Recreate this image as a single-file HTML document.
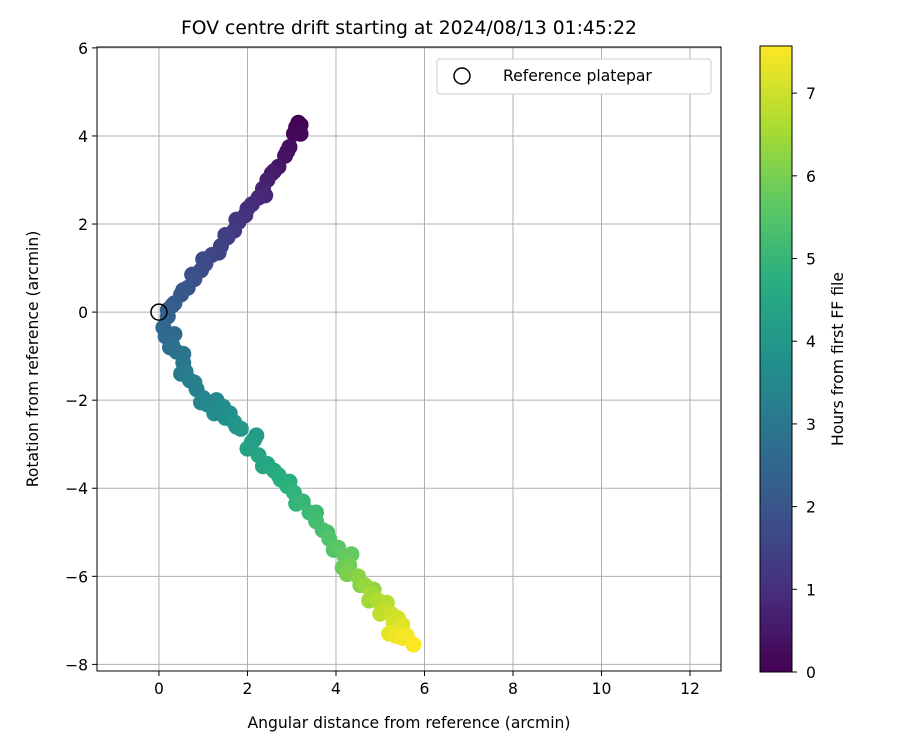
<!DOCTYPE html>
<html><head><meta charset="utf-8"><style>
body{margin:0;background:#fff;}
svg text{font-family:"DejaVu Sans","Liberation Sans",sans-serif;fill:#000;}
</style></head><body>
<svg id="chart" width="900" height="750" xmlns="http://www.w3.org/2000/svg">
<defs><linearGradient id="vir" x1="0" y1="1" x2="0" y2="0">
<stop offset="0" stop-color="#440154"/><stop offset="0.125" stop-color="#472d7b"/><stop offset="0.25" stop-color="#3b528b"/><stop offset="0.375" stop-color="#2c728e"/><stop offset="0.5" stop-color="#21918c"/><stop offset="0.625" stop-color="#28ae80"/><stop offset="0.75" stop-color="#5ec962"/><stop offset="0.875" stop-color="#addc30"/><stop offset="1" stop-color="#fde725"/></linearGradient>
<clipPath id="clip"><rect x="97" y="47" width="624" height="624"/></clipPath></defs>
<text x="409" y="34" font-size="18.75" text-anchor="middle">FOV centre drift starting at 2024/08/13 01:45:22</text>
<g id="grid"></g>
<g id="pts" clip-path="url(#clip)"></g>
<circle id="refpt" r="8" fill="none" stroke="#000" stroke-width="1.5"/>
<rect x="97" y="47" width="624" height="624" fill="none" stroke="#000" stroke-width="1"/>
<g id="ticks"></g>
<text x="409" y="728" font-size="15.6" text-anchor="middle">Angular distance from reference (arcmin)</text>
<text transform="translate(38,359) rotate(-90)" font-size="15.6" text-anchor="middle">Rotation from reference (arcmin)</text>
<g>
<rect x="437" y="59" width="274" height="35" rx="3" fill="#fff" stroke="#ccc"/>
<circle cx="462" cy="76" r="8" fill="none" stroke="#000" stroke-width="1.5"/>
<text x="503" y="81" font-size="15.6">Reference platepar</text></g>
<rect x="760" y="46" width="32" height="626" fill="url(#vir)" stroke="#000" stroke-width="1"/>
<g id="cticks"></g>
<text transform="translate(843,359) rotate(-90)" font-size="15.6" text-anchor="middle">Hours from first FF file</text>
</svg>
<script>
const xs=[3.15,3.1,3.05,3.2,2.95,2.85,2.7,2.55,2.45,2.35,2.25,2.1,1.95,1.8,1.7,1.55,1.4,1.2,1.05,0.95,0.8,0.65,0.5,0.35,0.2,
0.2,0.1,0.15,0.3,0.4,0.55,0.6,0.7,0.85,1.0,1.1,1.25,1.45,1.5,1.7,1.85,2.2,2.1,2.0,2.25,2.45,2.6,2.75,2.9,3.05,3.25,3.4,3.55,3.7,3.85,4.05,4.2,4.3,4.25,4.5,4.65,4.8,4.95,5.1,5.25,5.3,5.45,5.35,5.6,5.75,
3.2,2.9,2.6,2.4,2.0,1.75,1.5,1.35,1.0,0.75,0.55,0.3,
0.35,0.25,0.55,0.5,0.8,0.95,1.3,1.6,1.75,2.15,2.35,2.7,2.95,3.1,3.55,3.8,3.95,4.35,4.15,4.55,4.85,4.75,5.15,5.0,5.4,5.5,5.2,5.5];
const ys=[4.3,4.2,4.05,4.05,3.75,3.55,3.3,3.15,3.0,2.8,2.6,2.45,2.2,2.05,1.85,1.7,1.5,1.3,1.1,0.95,0.75,0.55,0.4,0.2,0.05,
-0.1,-0.35,-0.55,-0.75,-0.9,-1.15,-1.35,-1.55,-1.75,-1.95,-2.1,-2.3,-2.15,-2.4,-2.5,-2.65,-2.8,-2.95,-3.1,-3.25,-3.45,-3.6,-3.8,-3.95,-4.1,-4.3,-4.55,-4.75,-4.95,-5.15,-5.35,-5.55,-5.75,-5.95,-6.0,-6.2,-6.4,-6.55,-6.75,-6.85,-7.05,-7.2,-7.35,-7.35,-7.55,
4.25,3.65,3.2,2.65,2.35,2.1,1.75,1.35,1.2,0.85,0.5,0.15,
-0.5,-0.8,-0.95,-1.4,-1.6,-2.05,-2.0,-2.3,-2.6,-2.9,-3.5,-3.7,-3.85,-4.35,-4.55,-5.0,-5.4,-5.5,-5.8,-6.2,-6.3,-6.55,-6.6,-6.85,-6.95,-7.1,-7.3,-7.4];
const hours=[0,0.05,0.1,0.15,0.25,0.35,0.45,0.55,0.65,0.75,0.85,0.95,1.05,1.15,1.25,1.35,1.45,1.55,1.65,1.75,1.85,1.95,2.05,2.15,2.25,
2.35,2.5,2.6,2.75,2.85,3.0,3.1,3.2,3.3,3.4,3.5,3.6,3.7,3.8,3.9,4.0,4.1,4.2,4.3,4.4,4.5,4.6,4.7,4.8,4.9,5.0,5.1,5.2,5.3,5.45,5.6,5.75,5.9,6.05,6.2,6.35,6.5,6.65,6.8,6.95,7.1,7.25,7.4,7.5,7.57,
0.02,0.3,0.5,0.8,1.0,1.2,1.4,1.5,1.7,1.8,2.0,2.2,
2.55,2.7,2.9,3.05,3.25,3.45,3.55,3.75,3.95,4.15,4.45,4.65,4.75,4.95,5.15,5.35,5.5,5.7,5.85,6.1,6.3,6.45,6.7,6.85,7.05,7.2,7.35,7.45];
const xTicks=[0,2,4,6,8,10,12];
const yTicks=[6,4,2,0,-2,-4,-6,-8];
const cTicks=[0,1,2,3,4,5,6,7];
const refPoint=[0,0];
const X0=97,X1=721,Y0=47,Y1=671,xmin=-1.4,xmax=12.7,ymin=-8.15,ymax=6.02;
const sx=v=>X0+(v-xmin)/(xmax-xmin)*(X1-X0);
const sy=v=>Y1-(v-ymin)/(ymax-ymin)*(Y1-Y0);
const cmin=0,cmax=7.57,cy=v=>672-(v-cmin)/(cmax-cmin)*626;
const stops=[[68,1,84],[71,45,123],[59,82,139],[44,114,142],[33,145,140],[40,174,128],[94,201,98],[173,220,48],[253,231,37]];
function vir(t){t=Math.max(0,Math.min(1,t))*8;const i=Math.min(7,Math.floor(t)),f=t-i;const a=stops[i],b=stops[i+1];
return 'rgb('+a.map((c,k)=>Math.round(c+(b[k]-c)*f)).join(',')+')';}
const NS='http://www.w3.org/2000/svg';
function mk(tag,attrs,parent){const e=document.createElementNS(NS,tag);for(const k in attrs)e.setAttribute(k,attrs[k]);parent.appendChild(e);return e;}
const grid=document.getElementById('grid'),ticks=document.getElementById('ticks');
xTicks.forEach(v=>{const x=sx(v);
const g=mk('line',{x1:x,x2:x,y1:Y0,y2:Y1,stroke:'#b0b0b0','stroke-width':1},grid);


const t=mk('line',{x1:x,x2:x,y1:Y1,y2:Y1+5,stroke:'#000'},ticks);


const l=mk('text',{x:x,y:Y1+23,'font-size':15.6,'text-anchor':'middle'},ticks);l.textContent=v;

});
yTicks.forEach(v=>{const y=sy(v);
const g=mk('line',{x1:X0,x2:X1,y1:y,y2:y,stroke:'#b0b0b0','stroke-width':1},grid);


const t=mk('line',{x1:X0-5,x2:X0,y1:y,y2:y,stroke:'#000'},ticks);


const l=mk('text',{x:X0-9,y:y+6,'font-size':15.6,'text-anchor':'end'},ticks);l.textContent=(v<0?'\u2212'+(-v):v);

});
const pts=document.getElementById('pts');
const order=hours.map((h,i)=>i).sort((a,b)=>hours[a]-hours[b]);
order.forEach(i=>{const h=hours[i];const c=mk('circle',{cx:sx(xs[i]),cy:sy(ys[i]),r:8,fill:vir((h-cmin)/(cmax-cmin))},pts);

});
const rp=document.getElementById('refpt');rp.setAttribute('cx',sx(refPoint[0]));rp.setAttribute('cy',sy(refPoint[1]));
const ct=document.getElementById('cticks');
cTicks.forEach(v=>{const y=cy(v);
const t=mk('line',{x1:792,x2:797,y1:y,y2:y,stroke:'#000'},ct);


const l=mk('text',{x:806,y:y+6,'font-size':15.6},ct);l.textContent=v;

});
</script>
</body></html>
